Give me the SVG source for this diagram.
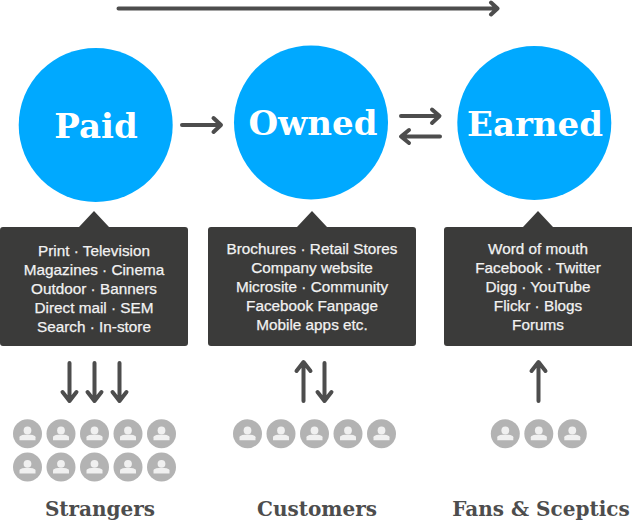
<svg xmlns="http://www.w3.org/2000/svg" xmlns:xlink="http://www.w3.org/1999/xlink" width="632" height="523" viewBox="0 0 632 523">
<style>
.c{fill:#00a9ff}
.t{font:bold 34px "DejaVu Serif","Liberation Serif",serif;fill:#fff;text-anchor:middle}
.b{fill:#3b3b3a}
.l{font:15.3px "Liberation Sans",Arial,sans-serif;fill:#f2f2f2;stroke:#f2f2f2;stroke-width:.25;text-anchor:middle}
.a{fill:none;stroke:#4d4d4d;stroke-width:4;stroke-linecap:round;stroke-linejoin:round}
.g{font:bold 20px "DejaVu Serif","Liberation Serif",serif;fill:#4d4d4d;text-anchor:middle}
</style>
<defs>
<g id="p"><circle r="14.5" fill="#b3b3b3"/><circle cy="-3.2" r="3.9" fill="#f0f0f0"/><path d="M-8 6.5V3.5Q-8 1.5-3 1H3Q8 1.5 8 3.5V6.5Z" fill="#f0f0f0"/></g>
</defs>
<g id="connectors">
<path class="a" d="M118.500 8.500H497M491 2.500L497.500 8.500L491 14.500"/>
<path class="a" d="M182 125H220M213.500 118L221 125L213.500 132"/>
<path class="a" d="M401 116H439M432 109.500L439.500 116L432 123"/>
<path class="a" d="M440 136.500H402M409 130L401 136.500L409 143"/>
<path class="a" d="M69.500 363V401M62.500 392L69.500 401L76.500 392"/>
<path class="a" d="M94.500 363V401M87.500 392L94.500 401L101.500 392"/>
<path class="a" d="M119.500 363V401M112.500 392L119.500 401L126.500 392"/>
<path class="a" d="M303.500 401V363M296.500 371L303.500 362L310.500 371"/>
<path class="a" d="M324.500 363V401M317.500 392L324.500 401L331.500 392"/>
<path class="a" d="M538.500 401V363M531.500 371L538.500 362L545.500 371"/>
</g>
<g id="paid"><circle class="c" cx="95.700" cy="125" r="77"/><text class="t" x="96" y="138">Paid</text></g>
<g id="owned"><circle class="c" cx="311" cy="122.500" r="77"/><text class="t" x="313" y="135">Owned</text></g>
<g id="earned"><circle class="c" cx="534.300" cy="123" r="77"/><text class="t" x="535" y="136">Earned</text></g>
<g id="paid-box"><path class="b" d="M3 227H79L94 211L109 227H185Q188 227 188 230V343Q188 346 185 346H3Q0 346 0 343V230Q0 227 3 227Z"/>
<text class="l" x="94" y="255.500">Print · Television</text><text class="l" x="94" y="274.500">Magazines · Cinema</text><text class="l" x="94" y="293.500">Outdoor · Banners</text><text class="l" x="94" y="312.500">Direct mail · SEM</text><text class="l" x="94" y="332">Search · In-store</text></g>
<g id="owned-box"><path class="b" d="M211 227H297L312 211L327 227H413Q416 227 416 230V343Q416 346 413 346H211Q208 346 208 343V230Q208 227 211 227Z"/>
<text class="l" x="312" y="253.500">Brochures · Retail Stores</text><text class="l" x="312" y="272.500">Company website</text><text class="l" x="312" y="291.500">Microsite · Community</text><text class="l" x="312" y="310.500">Facebook Fanpage</text><text class="l" x="312" y="330">Mobile apps etc.</text></g>
<g id="earned-box"><path class="b" d="M447 227H523L538 211L553 227H632V346H447Q444 346 444 343V230Q444 227 447 227Z"/>
<text class="l" x="538" y="253.500">Word of mouth</text><text class="l" x="538" y="272.500">Facebook · Twitter</text><text class="l" x="538" y="291.500">Digg · YouTube</text><text class="l" x="538" y="310.500">Flickr · Blogs</text><text class="l" x="538" y="330">Forums</text></g>
<g id="strangers">
<use xlink:href="#p" x="27.500" y="433.700"/><use xlink:href="#p" x="61" y="433.700"/><use xlink:href="#p" x="94.500" y="433.700"/><use xlink:href="#p" x="128" y="433.700"/><use xlink:href="#p" x="161.500" y="433.700"/>
<use xlink:href="#p" x="27.500" y="467"/><use xlink:href="#p" x="61" y="467"/><use xlink:href="#p" x="94.500" y="467"/><use xlink:href="#p" x="128" y="467"/><use xlink:href="#p" x="161.500" y="467"/>
<text class="g" x="100" y="516">Strangers</text></g>
<g id="customers">
<use xlink:href="#p" x="247.500" y="433.700"/><use xlink:href="#p" x="281" y="433.700"/><use xlink:href="#p" x="314.500" y="433.700"/><use xlink:href="#p" x="348" y="433.700"/><use xlink:href="#p" x="381.500" y="433.700"/>
<text class="g" x="317" y="516">Customers</text></g>
<g id="fans">
<use xlink:href="#p" x="505.300" y="433.700"/><use xlink:href="#p" x="538.800" y="433.700"/><use xlink:href="#p" x="572.300" y="433.700"/>
<text class="g" x="541" y="516">Fans &amp; Sceptics</text></g>
</svg>
